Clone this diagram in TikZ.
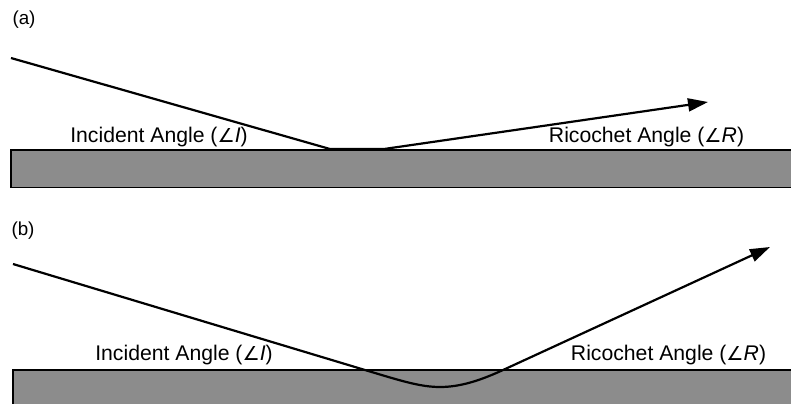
\documentclass[tikz,border=0pt]{standalone}
\usepackage{fontspec}
\setmainfont{Liberation Sans}
\newfontfamily\symfont{DejaVu Sans}
\usetikzlibrary{arrows.meta,positioning}
\definecolor{plategray}{RGB}{140,140,140}
\definecolor{inkblack}{RGB}{0,0,0}
\newcommand{\angsym}{{\symfont\fontsize{9.6}{11}\selectfont\char"2220}}

\tikzset{
  plate/.style={fill=plategray, draw=inkblack, line width=0.6pt},
  ray/.style={draw=inkblack, line width=1.1pt, line join=round},
  rayarrow/.style={ray, -{Triangle[length=10pt,width=6.5pt]}},
  anglelabel/.style={inner sep=0pt, font=\fontsize{10.6}{12}\selectfont},
  panellabel/.style={inner sep=0pt, font=\fontsize{9.4}{11}\selectfont}
}

\begin{document}
\begin{tikzpicture}[x=0.5pt, y=-0.5pt]
  \useasboundingbox (0,0) rectangle (791,403);

  % (a) shallow ricochet
  \node[panellabel] (labelA) at (24,20) {(a)};
  \draw[plate] (11,150) rectangle (796,187.5);
  \coordinate (inA) at (11,58);
  \coordinate (hitA) at (330,149);
  \coordinate (slideA) at (384,149);
  \coordinate (leaveA) at (393,147.7);
  \coordinate (outA) at (708,102);
  \draw[ray] (inA) -- (hitA) -- (slideA) .. controls (388,149) .. (leaveA);
  \draw[rayarrow] (leaveA) -- (outA);
  \node[anglelabel] (incidentA) at (159,137) {Incident Angle (\angsym\textit{I})};
  \node[anglelabel] (ricochetA) at (646.5,137) {Ricochet Angle (\angsym\textit{R})};

  % (b) steep ricochet
  \node[panellabel] (labelB) at (23,231) {(b)};
  \draw[plate] (13,370) rectangle (796,410);
  \coordinate (inB) at (13,264);
  \coordinate (hitB) at (365,370);
  \coordinate (lowB) at (440,387);
  \coordinate (leaveB) at (503,370);
  \coordinate (outB) at (770,247);
  \draw[ray] (inB) -- (hitB) .. controls (400,380.5) and (420,387) .. (lowB)
    .. controls (460,387) and (480,380.6) .. (leaveB);
  \draw[rayarrow] (leaveB) -- (outB);
  \node[anglelabel] (incidentB) at (184,355) {Incident Angle (\angsym\textit{I})};
  \node[anglelabel] (ricochetB) at (668.5,355) {Ricochet Angle (\angsym\textit{R})};
\end{tikzpicture}
\end{document}
